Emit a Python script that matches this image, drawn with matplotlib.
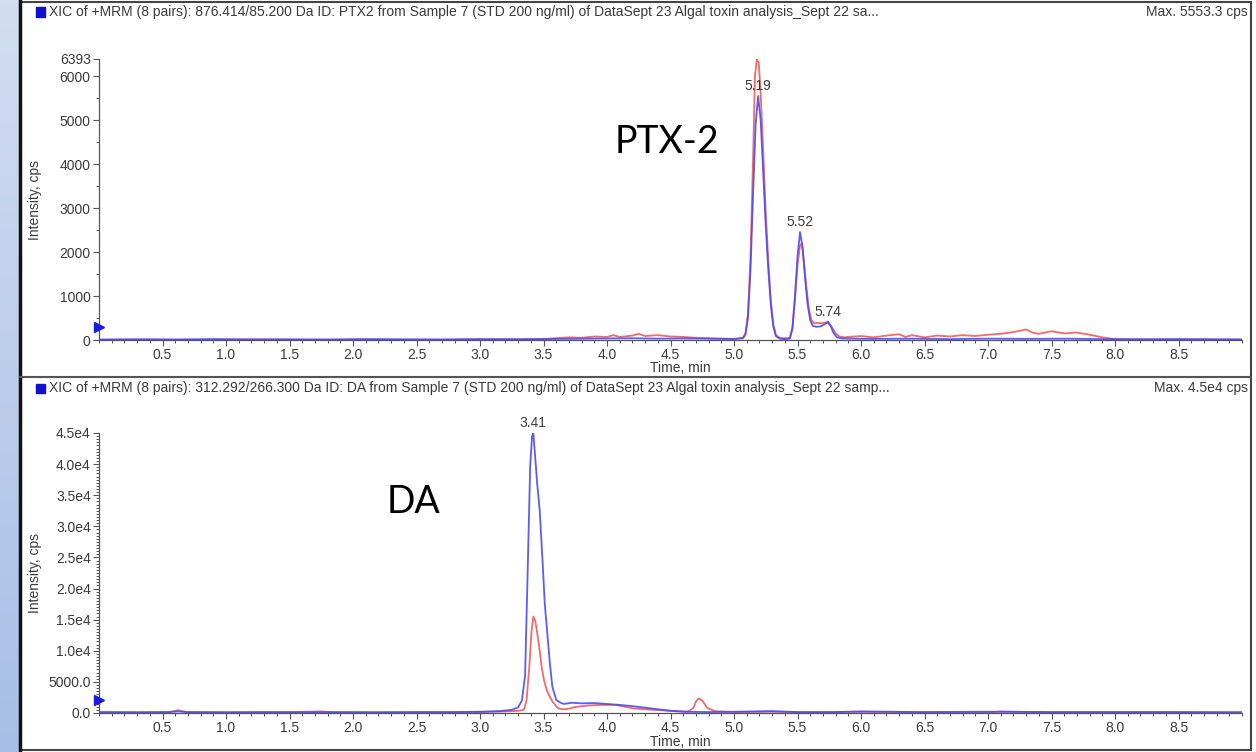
import numpy as np
import matplotlib
matplotlib.use("Agg")
import matplotlib.pyplot as plt
from matplotlib.patches import Rectangle
from matplotlib.lines import Line2D
from matplotlib.colors import LinearSegmentedColormap
from matplotlib.ticker import FixedLocator, FixedFormatter, MultipleLocator

# ── data ─────────────────────────────────────────────────────────────────────
# PTX2, 876.414/85.200 Da
ptx_t_blue = [0.00, 0.30, 0.60, 0.90, 1.20, 1.50, 1.80, 2.10, 2.40, 2.70,
              3.00, 3.30, 3.60, 3.80, 4.00, 4.20, 4.40, 4.60, 4.80, 5.00,
              5.07, 5.09, 5.11, 5.13, 5.15, 5.17, 5.19, 5.21, 5.23, 5.25,
              5.27, 5.29, 5.31, 5.33, 5.36, 5.40, 5.44, 5.46, 5.48, 5.50,
              5.52, 5.54, 5.56, 5.58, 5.60, 5.62, 5.65, 5.68, 5.71, 5.74,
              5.76, 5.78, 5.81, 5.85, 5.95, 6.10, 6.40, 6.70, 7.00, 7.30,
              7.60, 7.90, 8.20, 8.50, 8.80, 9.00]
ptx_blue = [10, 15, 10, 20, 10, 15, 10, 20, 15, 10,
            20, 15, 25, 30, 35, 40, 30, 35, 30, 25,
            40, 120, 500, 1600, 3300, 4900, 5553, 5000, 3800, 2600,
            1600, 800, 300, 90, 30, 20, 30, 280, 1000, 1900,
            2455, 2100, 1400, 800, 450, 320, 300, 310, 350, 420,
            330, 180, 60, 35, 30, 25, 30, 20, 30, 25,
            30, 20, 15, 20, 15, 15]
ptx_t_red = [0.00, 0.40, 0.80, 1.20, 1.60, 2.00, 2.40, 2.80, 3.20, 3.50,
             3.60, 3.70, 3.80, 3.90, 4.00, 4.05, 4.10, 4.20, 4.25, 4.30,
             4.40, 4.50, 4.60, 4.70, 4.80, 4.90, 5.00, 5.07, 5.09, 5.11,
             5.13, 5.15, 5.165, 5.18, 5.195, 5.21, 5.23, 5.25, 5.27, 5.29,
             5.31, 5.33, 5.36, 5.40, 5.44, 5.46, 5.48, 5.50, 5.52, 5.535,
             5.55, 5.57, 5.59, 5.61, 5.63, 5.66, 5.69, 5.72, 5.74, 5.77,
             5.80, 5.83, 5.87, 5.90, 6.00, 6.10, 6.20, 6.30, 6.35, 6.40,
             6.50, 6.60, 6.70, 6.80, 6.90, 7.00, 7.10, 7.20, 7.30, 7.35,
             7.40, 7.50, 7.60, 7.70, 7.80, 7.90, 8.00, 8.30, 8.60, 9.00]
ptx_red = [5, 10, 5, 15, 5, 10, 5, 10, 15, 20,
           40, 60, 50, 80, 70, 110, 70, 100, 140, 90,
           110, 80, 70, 50, 40, 30, 20, 50, 150, 600,
           1900, 4100, 6000, 6393, 6300, 5600, 4300, 2900, 1800, 900,
           350, 110, 50, 40, 45, 250, 900, 1700, 2150, 2200,
           1800, 1200, 700, 450, 380, 390, 380, 400, 380, 300,
           150, 80, 60, 70, 90, 60, 100, 130, 70, 110,
           60, 100, 80, 110, 90, 120, 140, 180, 240, 170,
           140, 200, 150, 170, 120, 60, 20, 10, 10, 5]

# DA, 312.292/266.300 Da
da_t_blue = [0.00, 0.30, 0.55, 0.62, 0.70, 1.00, 1.30, 1.60, 1.90, 2.20,
             2.50, 2.80, 3.00, 3.15, 3.25, 3.30, 3.33, 3.355, 3.375, 3.395,
             3.41, 3.42, 3.435, 3.45, 3.47, 3.495, 3.51, 3.53, 3.55, 3.57,
             3.60, 3.63, 3.66, 3.72, 3.80, 3.90, 4.00, 4.10, 4.20, 4.30,
             4.40, 4.50, 4.60, 4.80, 5.00, 5.30, 5.50, 5.80, 6.00, 6.50,
             7.00, 7.50, 8.00, 8.50, 9.00]
da_blue = [150, 120, 150, 250, 150, 120, 150, 120, 140, 120,
           150, 150, 200, 300, 500, 900, 2000, 6000, 22500, 39600,
           44500, 45000, 41000, 36900, 32600, 23500, 17500, 12800, 8000, 4200,
           2100, 1700, 1450, 1650, 1550, 1600, 1450, 1300, 1100, 850,
           600, 350, 200, 150, 200, 300, 150, 150, 250, 150,
           200, 150, 150, 150, 120]
da_t_red = [0.00, 0.30, 0.55, 0.62, 0.70, 1.00, 1.40, 1.75, 1.85, 2.20,
            2.60, 3.00, 3.20, 3.30, 3.346, 3.367, 3.388, 3.405, 3.42, 3.435,
            3.451, 3.47, 3.485, 3.505, 3.525, 3.55, 3.57, 3.60, 3.617, 3.65,
            3.68, 3.72, 3.76, 3.85, 3.94, 4.07, 4.20, 4.33, 4.46, 4.55,
            4.64, 4.68, 4.70, 4.72, 4.75, 4.79, 4.85, 5.00, 5.30, 5.60,
            6.00, 6.50, 7.00, 7.10, 7.50, 8.00, 8.50, 9.00]
da_red = [100, 80, 120, 450, 100, 80, 100, 250, 100, 80,
          100, 150, 250, 350, 500, 2100, 7400, 13000, 15500, 14800,
          12800, 10000, 7400, 5200, 3700, 2600, 1870, 1100, 750, 600,
          600, 800, 1000, 1200, 1300, 1300, 750, 550, 400, 300,
          250, 800, 1800, 2350, 2000, 800, 300, 150, 200, 100,
          200, 100, 100, 250, 100, 100, 100, 80]

# axis ticks / labels
x_ticks = [0.5, 1.0, 1.5, 2.0, 2.5, 3.0, 3.5, 4.0, 4.5, 5.0, 5.5, 6.0, 6.5, 7.0, 7.5, 8.0, 8.5]
x_labels = ["%.1f" % v for v in x_ticks]
ptx_yticks = [0, 1000, 2000, 3000, 4000, 5000, 6000, 6393]
ptx_ylabels = ["0", "1000", "2000", "3000", "4000", "5000", "6000", "6393"]
da_yticks = [0, 5000, 10000, 15000, 20000, 25000, 30000, 35000, 40000, 45000]
da_ylabels = ["0.0", "5000.0", "1.0e4", "1.5e4", "2.0e4", "2.5e4", "3.0e4", "3.5e4", "4.0e4", "4.5e4"]

ptx_peaks = [(5.19, 5553, "5.19"), (5.52, 2455, "5.52"), (5.74, 420, "5.74")]
da_peaks = [(3.42, 45000, "3.41")]

ptx_title = ("XIC of +MRM (8 pairs): 876.414/85.200 Da ID: PTX2 from Sample 7 (STD 200 ng/ml) "
             "of DataSept 23 Algal toxin analysis_Sept 22 sa...")
da_title = ("XIC of +MRM (8 pairs): 312.292/266.300 Da ID: DA from Sample 7 (STD 200 ng/ml) "
            "of DataSept 23 Algal toxin analysis_Sept 22 samp...")

W, H = 1256, 752
def fx(px): return px / W
def fy(py): return 1 - py / H

plt.rcParams["font.family"] = ["Liberation Sans", "DejaVu Sans"]
TXT = "#3a3a3a"
BLUE = "#4a4af5"
RED = "#f26a6a"
FS = 10

fig = plt.figure(figsize=(12.56, 7.52), dpi=100)

# light blue strip on the left
gax = fig.add_axes([0, 0, fx(19), 1])
cm = LinearSegmentedColormap.from_list("strip", ["#d2ddf1", "#a7bfe6"])
gax.imshow(np.linspace(0, 1, 200).reshape(-1, 1), aspect="auto", cmap=cm)
gax.axis("off")

# panel frames
fig.add_artist(Rectangle((fx(20), fy(750)), fx(1251) - fx(20), fy(2) - fy(750),
                         transform=fig.transFigure, fill=False, ec="#444", lw=1.5))
fig.add_artist(Line2D([fx(20), fx(20)], [0, 1], transform=fig.transFigure, color="#111", lw=2.5))
fig.add_artist(Line2D([fx(20), fx(1251)], [fy(377), fy(377)], transform=fig.transFigure,
                      color="#555", lw=1.5))


def panel(box, t_red, y_red, t_blue, y_blue, yticks, ylabels, ymax, yminor, peaks,
          title, maxtxt, title_y, label_y):
    ax = fig.add_axes(box)
    ax.plot(t_red, y_red, color=RED, lw=1.3, zorder=2)
    ax.plot(t_blue, y_blue, color=BLUE, lw=1.3, alpha=0.9, zorder=3)
    ax.set_xlim(0, 9.0)
    ax.set_ylim(0, ymax)
    for s in ("top", "right"):
        ax.spines[s].set_visible(False)
    for s in ("left", "bottom"):
        ax.spines[s].set_color("#555")
        ax.spines[s].set_linewidth(0.9)
    ax.xaxis.set_major_locator(FixedLocator(x_ticks))
    ax.xaxis.set_major_formatter(FixedFormatter(x_labels))
    ax.xaxis.set_minor_locator(MultipleLocator(0.1))
    ax.yaxis.set_major_locator(FixedLocator(yticks))
    ax.yaxis.set_major_formatter(FixedFormatter(ylabels))
    ax.yaxis.set_minor_locator(MultipleLocator(yminor))
    ax.tick_params(which="major", length=4, width=0.8, color="#555", labelsize=FS,
                   labelcolor=TXT, pad=2)
    ax.tick_params(which="minor", length=2, width=0.7, color="#555")
    ax.set_ylabel("Intensity, cps", fontsize=FS, color=TXT)
    ax.yaxis.set_label_coords((42 - 99) / (1242 - 99), 0.5)
    ax.text(680, label_y, "Time, min", transform=None, fontsize=FS, color=TXT,
            ha="center", va="center")
    for t, v, s in peaks:
        ax.annotate(s, xy=(t, v), xytext=(0, 2), textcoords="offset points",
                    ha="center", va="bottom", fontsize=FS, color=TXT, annotation_clip=False)
    # threshold marker
    ax.plot([0], [0.045], marker=">", color="#1a1ae0", markersize=7, clip_on=False,
            transform=ax.transAxes, zorder=5)
    # header
    fig.add_artist(Rectangle((fx(36), fy(title_y + 4.5)), 9 / W, 9 / H,
                             transform=fig.transFigure, color="#1010d0"))
    fig.text(fx(49), fy(title_y), title, fontsize=FS, color=TXT, ha="left", va="center")
    fig.text(fx(1248), fy(title_y), maxtxt, fontsize=FS, color=TXT, ha="right", va="center")
    return ax


ax1 = panel([fx(99), fy(340), fx(1242) - fx(99), fy(59) - fy(340)],
            ptx_t_red, ptx_red, ptx_t_blue, ptx_blue, ptx_yticks, ptx_ylabels, 6393, 500,
            ptx_peaks, ptx_title, "Max. 5553.3 cps", 12, H - 368)
ax2 = panel([fx(99), fy(713), fx(1242) - fx(99), fy(433) - fy(713)],
            da_t_red, da_red, da_t_blue, da_blue, da_yticks, da_ylabels, 45000, 500,
            da_peaks, da_title, "Max. 4.5e4 cps", 388, H - 742)

fig.text(fx(667), fy(142), "PTX-2", fontsize=27, family="Lato", color="black",
         ha="center", va="center")
fig.text(fx(414), fy(502), "DA", fontsize=27, family="Lato", color="black",
         ha="center", va="center")

fig.savefig("out.png", dpi=100)
